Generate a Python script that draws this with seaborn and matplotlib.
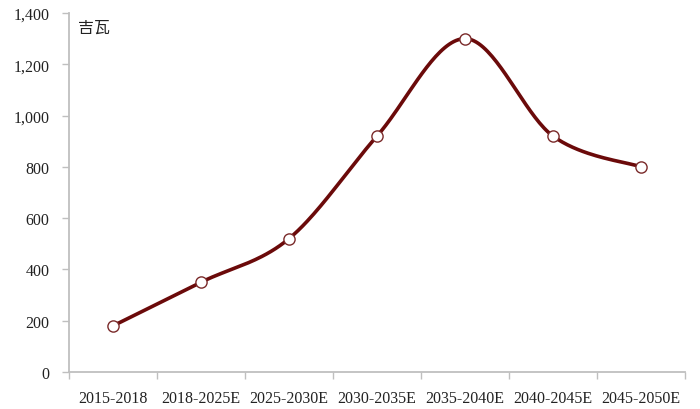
import matplotlib
matplotlib.use('Agg')
import matplotlib.pyplot as plt
import numpy as np
import pandas as pd
import seaborn as sns
from matplotlib.ticker import FuncFormatter, FixedLocator

# chart data
periods = ['2015-2018', '2018-2025E', '2025-2030E', '2030-2035E',
           '2035-2040E', '2040-2045E', '2045-2050E']
capacity = [180, 350, 520, 920, 1300, 920, 800]
unit_label = '吉瓦'
y_ticks = [0, 200, 400, 600, 800, 1000, 1200, 1400]


def smooth_path(xs, ys, steps=40):
    """Catmull-Rom style smoothing, like a spreadsheet 'smoothed line'."""
    xs = np.asarray(xs, dtype=float)
    ys = np.asarray(ys, dtype=float)
    px = np.concatenate([[xs[0]], xs, [xs[-1]]])
    py = np.concatenate([[ys[0]], ys, [ys[-1]]])
    out_x, out_y = [], []
    for i in range(1, len(px) - 2):
        p0, p1, p2, p3 = (np.array([px[j], py[j]]) for j in range(i - 1, i + 3))
        c1 = p1 + (p2 - p0) / 6
        c2 = p2 - (p3 - p1) / 6
        t = np.linspace(0, 1, steps)[:, None]
        pts = ((1 - t) ** 3) * p1 + 3 * ((1 - t) ** 2) * t * c1 \
            + 3 * (1 - t) * t ** 2 * c2 + t ** 3 * p2
        out_x.extend(pts[:, 0])
        out_y.extend(pts[:, 1])
    return np.array(out_x), np.array(out_y)


sns.set_style('white')
plt.rcParams['font.family'] = ['Liberation Serif', 'Noto Sans CJK SC', 'DejaVu Sans']

line_color = '#6b0a0a'
grey = '#bfbfbf'

fig = plt.figure(figsize=(7, 4.1), dpi=100)
ax = fig.add_axes([69 / 700, 37 / 410, 616 / 700, 359 / 410])

pos = np.arange(len(periods))
sx, sy = smooth_path(pos, capacity)
curve = pd.DataFrame({'x': sx, 'y': sy})
points = pd.DataFrame({'x': pos, 'y': capacity})

sns.lineplot(data=curve, x='x', y='y', ax=ax, color=line_color,
             linewidth=2.6, sort=False, estimator=None)
sns.scatterplot(data=points, x='x', y='y', ax=ax, s=65, color='white',
                edgecolor='#7a2a2a', linewidth=1.0, zorder=5)

ax.set_xlim(-0.5, len(periods) - 0.5)
ax.set_ylim(0, 1400)
ax.set_yticks(y_ticks)
ax.yaxis.set_major_formatter(FuncFormatter(lambda v, p: f'{int(v):,}'))
ax.set_xticks(pos)
ax.set_xticklabels(periods)
ax.xaxis.set_minor_locator(FixedLocator(np.arange(len(periods) + 1) - 0.5))
ax.tick_params(axis='x', which='major', length=0, pad=13, labelsize=11.5,
               colors='#222222')
ax.tick_params(axis='x', which='minor', length=5, width=1, color=grey,
               direction='out', bottom=True)
ax.tick_params(axis='y', length=5, width=1, color=grey, direction='out',
               labelsize=11.5, labelcolor='#222222', pad=9, left=True)
ax.set_xlabel('')
ax.set_ylabel('')

for side in ['top', 'right']:
    ax.spines[side].set_visible(False)
for side in ['left', 'bottom']:
    ax.spines[side].set_color(grey)
    ax.spines[side].set_linewidth(1.3)

ax.text(0.014, 0.985, unit_label, transform=ax.transAxes, ha='left',
        va='top', fontsize=11.5, color='#222222',
        family=['Noto Sans CJK SC', 'DejaVu Sans'])

plt.savefig('out.png', dpi=100)
plt.close()
